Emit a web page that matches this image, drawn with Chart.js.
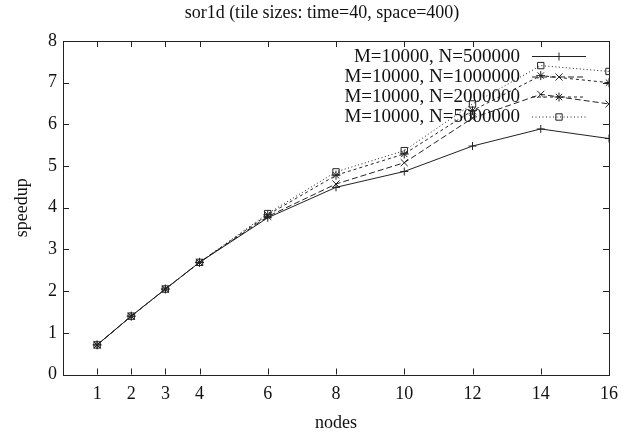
<!DOCTYPE html>
<html>
<head>
<meta charset="utf-8">
<script src="https://cdn.jsdelivr.net/npm/chart.js@4/dist/chart.umd.min.js"></script>
<style>
  html, body { margin: 0; padding: 0; background: #fff; }
  #wrap { width: 633px; height: 437px; }
</style>
</head>
<body>
<div id="wrap"><canvas id="myChart" width="633" height="437"></canvas></div>
<script>
// datos
const nodes = [1, 2, 3, 4, 6, 8, 10, 12, 14, 16];
const xTicks = [1, 2, 3, 4, 6, 8, 10, 12, 14, 16];
const seriesNames = ["M=10000, N=500000", "M=10000, N=1000000", "M=10000, N=2000000", "M=10000, N=5000000"];
const speedup_500k =  [0.71, 1.40, 2.05, 2.69, 3.76, 4.49, 4.87, 5.48, 5.89, 5.66];
const speedup_1m =    [0.71, 1.40, 2.05, 2.69, 3.79, 4.57, 5.08, 6.15, 6.72, 6.49];
const speedup_2m =    [0.71, 1.40, 2.05, 2.69, 3.83, 4.78, 5.29, 6.33, 7.17, 7.00];
const speedup_5m =    [0.71, 1.40, 2.05, 2.69, 3.86, 4.86, 5.37, 6.49, 7.41, 7.27];

const FONT = "'Liberation Serif', 'Times New Roman', serif";
const INK = "#222";

function pts(vals) {
	return nodes.map((n, i) => ({ x: n, y: vals[i] }));
}

const styles = [
	{ dash: [], point: "cross", r: 4 },
	{ dash: [6, 3], point: "crossRot", r: 5 },
	{ dash: [3, 3], point: "star", r: 4.5 },
	{ dash: [1, 2.5], point: "rect", r: 4.5 },
];
const allData = [speedup_500k, speedup_1m, speedup_2m, speedup_5m];

const datasets = allData.map((vals, i) => ({
	label: seriesNames[i],
	data: pts(vals),
	borderColor: INK,
	backgroundColor: "rgba(0,0,0,0)",
	borderWidth: 1,
	borderDash: styles[i].dash,
	pointStyle: styles[i].point,
	pointRadius: styles[i].r,
	pointBorderColor: INK,
	pointBorderWidth: 1,
	pointBackgroundColor: "rgba(0,0,0,0)",
	tension: 0,
	fill: false,
}));

// marco, ticks hacia adentro, titulo y leyenda estilo gnuplot
const gnuplotDeco = {
	id: "gnuplotDeco",
	afterDraw(chart) {
		const c = chart.ctx;
		const a = chart.chartArea;
		const xs = chart.scales.x, ys = chart.scales.y;
		c.save();
		c.strokeStyle = INK;
		c.lineWidth = 1;
		c.setLineDash([]);
		c.strokeRect(Math.round(a.left) + 0.5, Math.round(a.top) + 0.5, Math.round(a.right - a.left), Math.round(a.bottom - a.top));
		const tl = 6;
		c.beginPath();
		xTicks.forEach(v => {
			const px = Math.round(xs.getPixelForValue(v)) + 0.5;
			c.moveTo(px, a.bottom); c.lineTo(px, a.bottom - tl);
			c.moveTo(px, a.top); c.lineTo(px, a.top + tl);
		});
		for (let v = 1; v < 8; v++) {
			const py = Math.round(ys.getPixelForValue(v)) + 0.5;
			c.moveTo(a.left, py); c.lineTo(a.left + tl, py);
			c.moveTo(a.right, py); c.lineTo(a.right - tl, py);
		}
		c.stroke();

		// titulo
		c.fillStyle = "#111";
		c.font = "18px " + FONT;
		c.textAlign = "center";
		c.textBaseline = "middle";
		c.fillText("sor1d (tile sizes: time=40, space=400)", 322, 13);

		// leyenda
		const rowY = [56, 76.5, 96.5, 116.5];
		c.font = "19px " + FONT;
		c.textAlign = "right";
		chart.data.datasets.forEach((ds, i) => {
			const y = rowY[i];
			c.fillStyle = "#111";
			c.fillText(ds.label, 520, y + 1);
			c.beginPath();
			c.setLineDash(ds.borderDash);
			c.moveTo(532, y + 0.5); c.lineTo(586, y + 0.5);
			c.stroke();
			c.setLineDash([]);
			c.fillStyle = "rgba(0,0,0,0)";
			Chart.helpers.drawPoint(c, { pointStyle: ds.pointStyle, radius: ds.pointRadius, borderWidth: 1 }, 559, y + 0.5);
		});
		c.restore();
	}
};

const ctx = document.getElementById("myChart").getContext("2d");
let myChart = new Chart(ctx, {
	type: "line",
	data: { datasets: datasets },
	plugins: [gnuplotDeco],
	options: {
		responsive: false,
		animation: false,
		layout: { padding: { top: 41, right: 24, bottom: 0, left: 0 } },
		plugins: {
			legend: { display: false },
			title: { display: false },
			tooltip: { enabled: false },
		},
		scales: {
			x: {
				type: "linear",
				min: 0,
				max: 16,
				afterBuildTicks: (scale) => { scale.ticks = xTicks.map(v => ({ value: v })); },
				afterFit: (scale) => { scale.height = 62.5; },
				grid: { display: false, drawTicks: false },
				border: { display: false },
				ticks: { color: "#111", padding: 9, maxRotation: 0, autoSkip: false, font: { family: FONT, size: 18 } },
				title: { display: true, text: "nodes", color: "#111", padding: { top: 0, bottom: 3 }, font: { family: FONT, size: 18 } },
			},
			y: {
				min: 0,
				max: 8,
				ticks: { stepSize: 1, color: "#111", padding: 6, font: { family: FONT, size: 18 } },
				afterFit: (scale) => { scale.width = 63; },
				grid: { display: false, drawTicks: false },
				border: { display: false },
				title: { display: true, text: "speedup", color: "#111", padding: { top: 11, bottom: 0 }, font: { family: FONT, size: 18 } },
			},
		},
	},
});
</script>
</body>
</html>
